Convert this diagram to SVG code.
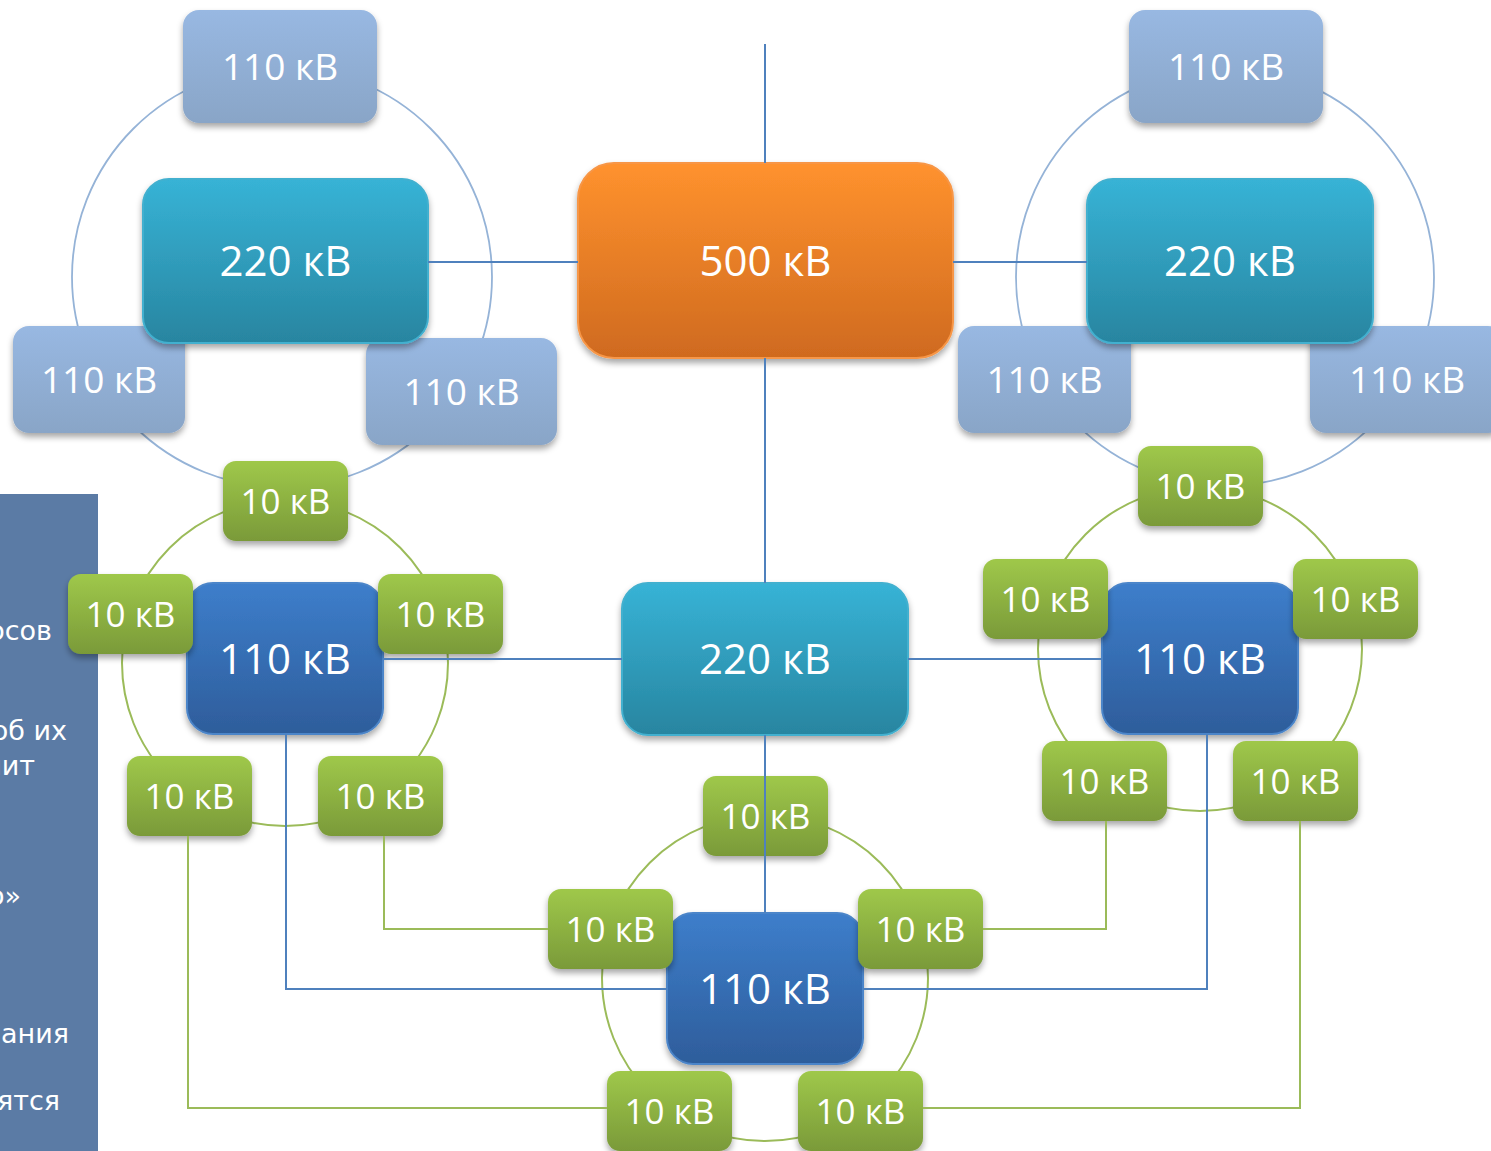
<svg xmlns="http://www.w3.org/2000/svg" width="1491" height="1151" viewBox="0 0 1491 1151">
<defs>
<linearGradient id="gLight" x1="0" y1="0" x2="0" y2="1"><stop offset="0" stop-color="#98b8e2"/><stop offset="1" stop-color="#89a5c7"/></linearGradient>
<linearGradient id="gTeal" x1="0" y1="0" x2="0" y2="1"><stop offset="0" stop-color="#37b3d6"/><stop offset="1" stop-color="#2885a0"/></linearGradient>
<linearGradient id="gBlue" x1="0" y1="0" x2="0" y2="1"><stop offset="0" stop-color="#3d7ecb"/><stop offset="1" stop-color="#2e5d9b"/></linearGradient>
<linearGradient id="gGreen" x1="0" y1="0" x2="0" y2="1"><stop offset="0" stop-color="#9fc84a"/><stop offset="1" stop-color="#7a9a39"/></linearGradient>
<linearGradient id="gOrange" x1="0" y1="0" x2="0" y2="1"><stop offset="0" stop-color="#ff922e"/><stop offset="1" stop-color="#cf6a1f"/></linearGradient>
<filter id="sh" x="-20%" y="-20%" width="140%" height="150%"><feDropShadow dx="0" dy="4" stdDeviation="3" flood-color="#000" flood-opacity="0.35"/></filter>
</defs>
<style>
.light{fill:url(#gLight);filter:url(#sh)}
.teal{fill:url(#gTeal);stroke:#42b0cf;stroke-width:2;filter:url(#sh)}
.blue{fill:url(#gBlue);stroke:#4b85c9;stroke-width:2;filter:url(#sh)}
.green{fill:url(#gGreen);filter:url(#sh)}
.orange{fill:url(#gOrange);stroke:#f79646;stroke-width:2;filter:url(#sh)}
text{font-family:"Open Sans","Noto Sans",sans-serif;fill:#fff;text-anchor:middle}
.s{font-size:37px}
.b{font-size:42px}
.g{font-size:35px}
.side{font-family:"DejaVu Sans",Verdana,sans-serif;font-size:27px;text-anchor:end}
.ringB{fill:none;stroke:#95b3d7;stroke-width:1.8}
.ringG{fill:none;stroke:#9bbb59;stroke-width:2}
.cb{fill:none;stroke:#4f81bd;stroke-width:2}
.cg{fill:none;stroke:#9bbb59;stroke-width:2}
</style>
<rect width="1491" height="1151" fill="#fff"/>
<g id="side-panel">
<rect x="0" y="494" width="98" height="657" fill="#5b7ba5"/>
<text class="side" x="52" y="640">осов</text>
<text class="side" x="67" y="740">об их</text>
<text class="side" x="35" y="775">лит</text>
<text class="side" x="21" y="905">о»</text>
<text class="side" x="69" y="1043">ания</text>
<text class="side" x="60" y="1110">ятся</text>
</g>
<g id="rings">
<circle class="ringB" cx="282" cy="277" r="210"/>
<circle class="ringB" cx="1225" cy="277" r="209"/>
<circle class="ringG" cx="285" cy="663" r="163"/>
<circle class="ringG" cx="1200" cy="649" r="162"/>
<circle class="ringG" cx="765" cy="978" r="163"/>
</g>
<g id="nodes">
<g id="tl-110-top"><rect class="light" x="183" y="10" width="194" height="113" rx="16"/><text class="s" x="280" y="79.5">110 кВ</text></g>
<g id="tl-110-left"><rect class="light" x="13" y="326" width="172" height="107" rx="16"/><text class="s" x="99" y="392.5">110 кВ</text></g>
<g id="tl-110-right"><rect class="light" x="366" y="338" width="191" height="107" rx="16"/><text class="s" x="461.5" y="404.5">110 кВ</text></g>
<g id="tl-220"><rect class="teal" x="143" y="179" width="285" height="164" rx="26"/><text class="b" x="285.5" y="276">220 кВ</text></g>
<g id="tr-110-top"><rect class="light" x="1129" y="10" width="194" height="113" rx="16"/><text class="s" x="1226" y="79.5">110 кВ</text></g>
<g id="tr-110-left"><rect class="light" x="958" y="326" width="173" height="107" rx="16"/><text class="s" x="1044.5" y="392.5">110 кВ</text></g>
<g id="tr-110-right"><rect class="light" x="1310" y="326" width="194" height="107" rx="16"/><text class="s" x="1407" y="392.5">110 кВ</text></g>
<g id="tr-220"><rect class="teal" x="1087" y="179" width="286" height="164" rx="26"/><text class="b" x="1230" y="276">220 кВ</text></g>
<g id="c-500"><rect class="orange" x="578" y="163" width="375" height="195" rx="36"/><text class="b" x="765.5" y="275.5">500 кВ</text></g>
<g id="c-220"><rect class="teal" x="622" y="583" width="286" height="152" rx="26"/><text class="b" x="765" y="674">220 кВ</text></g>
<g id="lm-110"><rect class="blue" x="187" y="583" width="196" height="151" rx="26"/><text class="b" x="285" y="673.5">110 кВ</text></g>
<g id="rm-110"><rect class="blue" x="1102" y="583" width="196" height="151" rx="26"/><text class="b" x="1200" y="673.5">110 кВ</text></g>
<g id="b-110"><rect class="blue" x="667" y="913" width="196" height="151" rx="26"/><text class="b" x="765" y="1003.5">110 кВ</text></g>
<g id="lm-10-top"><rect class="green" x="223" y="461" width="125" height="80" rx="13"/><text class="g" x="285.5" y="513.5">10 кВ</text></g>
<g id="lm-10-left"><rect class="green" x="68" y="574" width="125" height="80" rx="13"/><text class="g" x="130.5" y="626.5">10 кВ</text></g>
<g id="lm-10-right"><rect class="green" x="378" y="574" width="125" height="80" rx="13"/><text class="g" x="440.5" y="626.5">10 кВ</text></g>
<g id="lm-10-bl"><rect class="green" x="127" y="756" width="125" height="80" rx="13"/><text class="g" x="189.5" y="808.5">10 кВ</text></g>
<g id="lm-10-br"><rect class="green" x="318" y="756" width="125" height="80" rx="13"/><text class="g" x="380.5" y="808.5">10 кВ</text></g>
<g id="rm-10-top"><rect class="green" x="1138" y="446" width="125" height="80" rx="13"/><text class="g" x="1200.5" y="498.5">10 кВ</text></g>
<g id="rm-10-left"><rect class="green" x="983" y="559" width="125" height="80" rx="13"/><text class="g" x="1045.5" y="611.5">10 кВ</text></g>
<g id="rm-10-right"><rect class="green" x="1293" y="559" width="125" height="80" rx="13"/><text class="g" x="1355.5" y="611.5">10 кВ</text></g>
<g id="rm-10-bl"><rect class="green" x="1042" y="741" width="125" height="80" rx="13"/><text class="g" x="1104.5" y="793.5">10 кВ</text></g>
<g id="rm-10-br"><rect class="green" x="1233" y="741" width="125" height="80" rx="13"/><text class="g" x="1295.5" y="793.5">10 кВ</text></g>
<g id="b-10-top"><rect class="green" x="703" y="776" width="125" height="80" rx="13"/><text class="g" x="765.5" y="828.5">10 кВ</text></g>
<g id="b-10-left"><rect class="green" x="548" y="889" width="125" height="80" rx="13"/><text class="g" x="610.5" y="941.5">10 кВ</text></g>
<g id="b-10-right"><rect class="green" x="858" y="889" width="125" height="80" rx="13"/><text class="g" x="920.5" y="941.5">10 кВ</text></g>
<g id="b-10-bl"><rect class="green" x="607" y="1071" width="125" height="80" rx="13"/><text class="g" x="669.5" y="1123.5">10 кВ</text></g>
<g id="b-10-br"><rect class="green" x="798" y="1071" width="125" height="80" rx="13"/><text class="g" x="860.5" y="1123.5">10 кВ</text></g>
</g>
<g id="connectors">
<path class="cb" d="M765,44 V163"/>
<path class="cb" d="M765,358 V583"/>
<path class="cb" d="M765,735 V913"/>
<path class="cb" d="M428,262 H578"/>
<path class="cb" d="M953,262 H1087"/>
<path class="cb" d="M383,659 H622"/>
<path class="cb" d="M908,659 H1102"/>
<path class="cb" d="M286,734 V989 H667"/>
<path class="cb" d="M1207,734 V989 H863"/>
<path class="cg" d="M384,836 V929 H548"/>
<path class="cg" d="M188,836 V1108 H607"/>
<path class="cg" d="M1106,821 V929 H983"/>
<path class="cg" d="M1300,821 V1108 H923"/>
</g>
</svg>
